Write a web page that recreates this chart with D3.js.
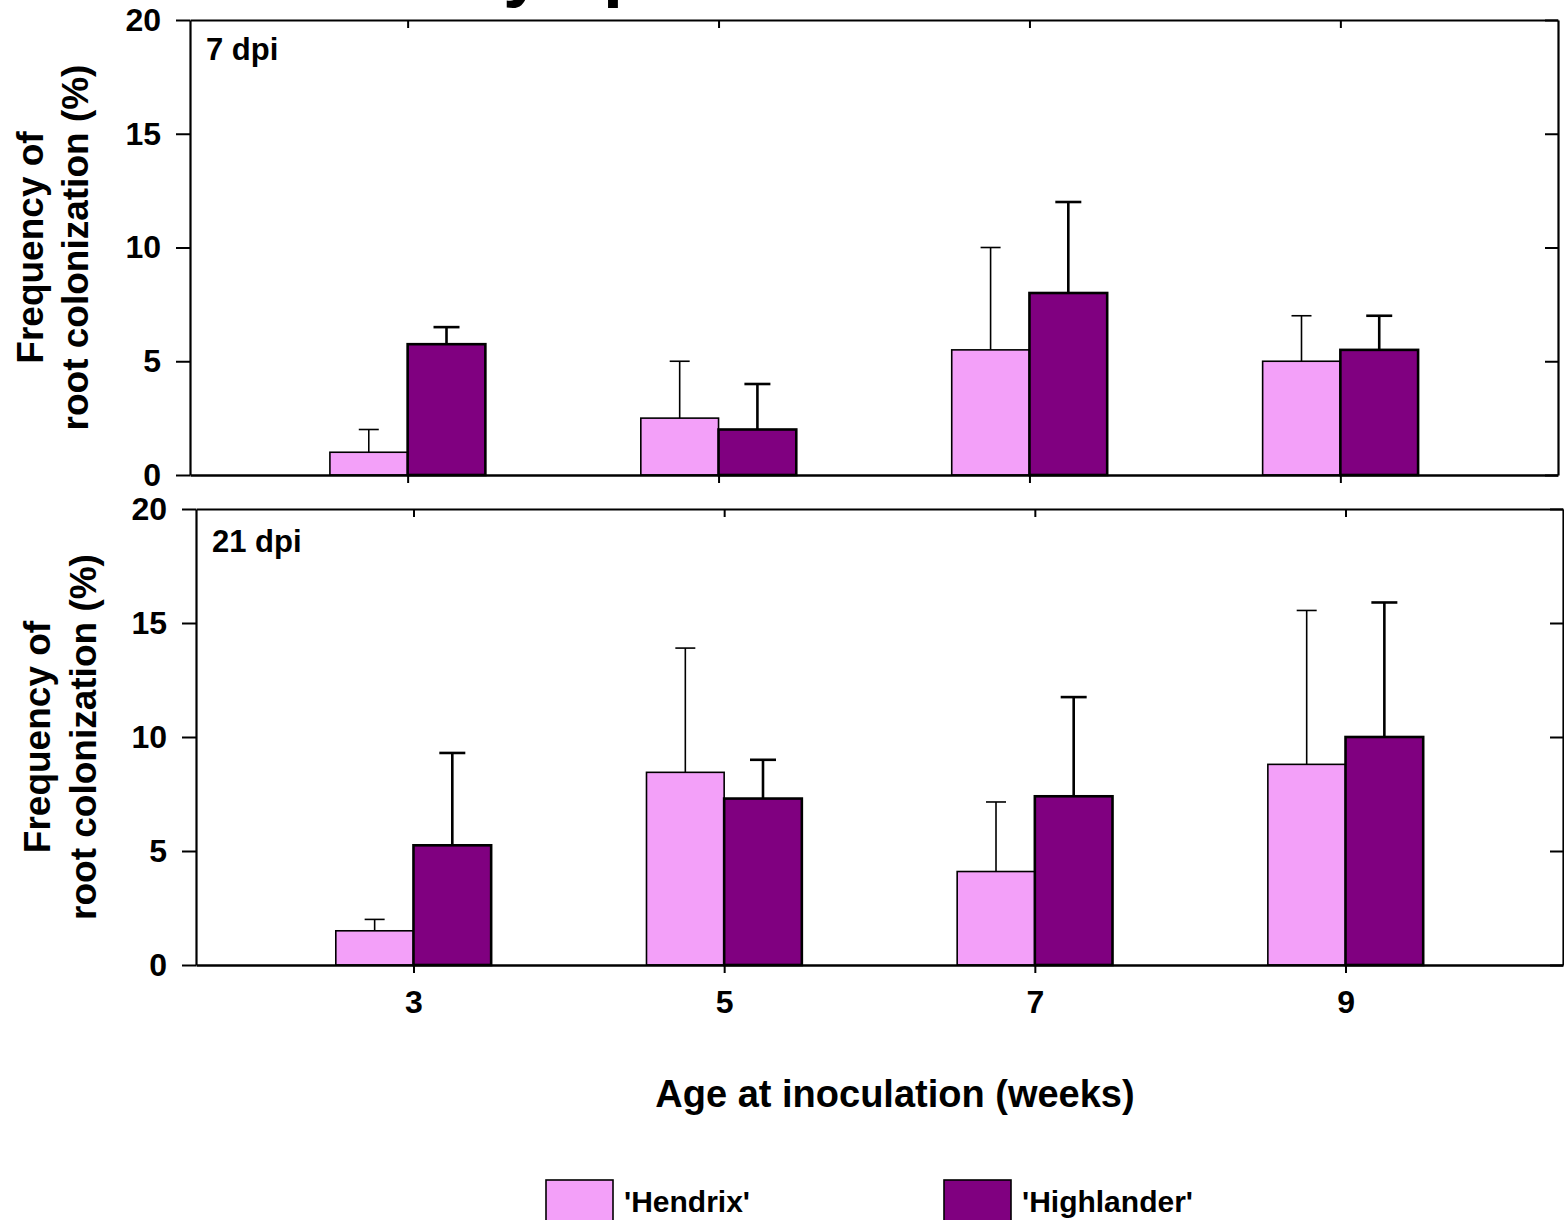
<!DOCTYPE html>
<html>
<head>
<meta charset="utf-8">
<script src="https://cdn.jsdelivr.net/npm/d3@7"></script>
<style>
  html, body { margin: 0; padding: 0; background: #fff; }
  svg { display: block; }
  text { font-family: "Liberation Sans", Arial, Helvetica, sans-serif; font-weight: bold; fill: #000; }
</style>
</head>
<body>
<svg id="chart" width="1564" height="1220"></svg>
<script>
// Age at inoculation (weeks)
const weeks = [3, 5, 7, 9];
const yTicks = [0, 5, 10, 15, 20];

// 7 days post inoculation: mean and standard error (%)
const hendrix7 = [1.0, 2.5, 5.5, 5.0];
const hendrix7Err = [1.0, 2.5, 4.5, 2.0];
const highlander7 = [5.75, 2.0, 8.0, 5.5];
const highlander7Err = [0.75, 2.0, 4.0, 1.5];

// 21 days post inoculation: mean and standard error (%)
const hendrix21 = [1.5, 8.45, 4.1, 8.8];
const hendrix21Err = [0.5, 5.45, 3.05, 6.75];
const highlander21 = [5.25, 7.3, 7.4, 10.0];
const highlander21Err = [4.05, 1.7, 4.35, 5.9];

const cultivars = ["'Hendrix'", "'Highlander'"];
const panelLabels = ["7 dpi", "21 dpi"];
const yTitleLines = ["Frequency of", "root colonization (%)"];
const xTitle = "Age at inoculation (weeks)";
const headline = "y ep";

const colors = ["#F3A0F9", "#800080"];
const barStroke = [1.6, 2.6];
const capHalf = [10, 13];

const svg = d3.select("#chart");

// Heading text running off the top edge
svg.append("text")
  .attr("x", 503).attr("y", -7)
  .style("font-size", "72px")
  .text(headline);

function drawPanel(opt) {
  const x = d3.scaleLinear().domain([1.6, 10.4]).range([opt.left, opt.left + opt.width]);
  const y = d3.scaleLinear().domain([0, 20]).range([opt.bottom, opt.top]);
  const g = svg.append("g");

  const series = [
    { vals: opt.hendrix, errs: opt.hendrixErr, offset: -0.5, idx: 0 },
    { vals: opt.highlander, errs: opt.highlanderErr, offset: 0, idx: 1 }
  ];

  series.forEach(s => {
    const rows = weeks.map((w, i) => ({ w, v: s.vals[i], e: s.errs[i] }));
    // error bars (upper half only)
    const eg = g.append("g").attr("stroke", "#000").attr("stroke-width", barStroke[s.idx]);
    rows.forEach(d => {
      const cx = x(d.w + s.offset + 0.25);
      eg.append("line").attr("x1", cx).attr("x2", cx).attr("y1", y(d.v)).attr("y2", y(d.v + d.e));
      eg.append("line").attr("x1", cx - capHalf[s.idx]).attr("x2", cx + capHalf[s.idx])
        .attr("y1", y(d.v + d.e)).attr("y2", y(d.v + d.e));
    });
    g.append("g").selectAll("rect").data(rows).join("rect")
      .attr("x", d => x(d.w + s.offset))
      .attr("width", d => x(d.w + s.offset + 0.5) - x(d.w + s.offset))
      .attr("y", d => y(d.v))
      .attr("height", d => y(0) - y(d.v))
      .attr("fill", colors[s.idx])
      .attr("stroke", "#000")
      .attr("stroke-width", barStroke[s.idx]);
  });

  // frame: top and right borders with inward ticks
  const top = g.append("g").attr("transform", `translate(0,${opt.top})`)
    .call(d3.axisBottom(x).tickValues(weeks).tickSize(8).tickFormat("").tickSizeOuter(0));
  const right = g.append("g").attr("transform", `translate(${opt.left + opt.width},0)`)
    .call(d3.axisLeft(y).tickValues(yTicks).tickSize(13).tickFormat("").tickSizeOuter(0));
  // left axis with outward ticks and labels
  const left = g.append("g").attr("transform", `translate(${opt.left},0)`)
    .call(d3.axisLeft(y).tickValues(yTicks).tickSize(14).tickPadding(15).tickSizeOuter(0));
  // bottom axis with outward ticks
  const bottom = g.append("g").attr("transform", `translate(0,${opt.bottom})`)
    .call(d3.axisBottom(x).tickValues(weeks).tickSize(8).tickPadding(17).tickSizeOuter(0)
      .tickFormat(opt.showX ? d3.format("d") : ""));

  [top, right, left, bottom].forEach(a => {
    a.attr("font-family", null).attr("font-size", null);
    a.selectAll("text").style("font-size", "32px");
    a.selectAll("line").attr("stroke", "#000").attr("stroke-width", 2);
    a.select(".domain").attr("stroke", "#000").attr("stroke-width", 2.2);
  });
  bottom.select(".domain").attr("stroke-width", 2.6);

  // panel label
  g.append("text")
    .attr("x", opt.left + 16).attr("y", opt.top + opt.labelDy)
    .style("font-size", "31px")
    .text(opt.label);

  // y axis title, two lines
  const cy = (opt.top + opt.bottom) / 2;
  yTitleLines.forEach((t, i) => {
    g.append("text")
      .attr("transform", `translate(${opt.titleX[i]},${cy}) rotate(-90)`)
      .attr("text-anchor", "middle")
      .style("font-size", "37px")
      .text(t);
  });
}

drawPanel({
  left: 190, width: 1368, top: 20, bottom: 475,
  hendrix: hendrix7, hendrixErr: hendrix7Err,
  highlander: highlander7, highlanderErr: highlander7Err,
  label: panelLabels[0], labelDy: 40, titleX: [43, 88], showX: false
});

drawPanel({
  left: 196, width: 1367, top: 509, bottom: 965,
  hendrix: hendrix21, hendrixErr: hendrix21Err,
  highlander: highlander21, highlanderErr: highlander21Err,
  label: panelLabels[1], labelDy: 43, titleX: [50, 96], showX: true
});

// x axis title
svg.append("text")
  .attr("x", 895).attr("y", 1107)
  .attr("text-anchor", "middle")
  .style("font-size", "38px")
  .text(xTitle);

// legend
const legendX = [546, 944];
const legend = svg.append("g");
cultivars.forEach((c, i) => {
  legend.append("rect")
    .attr("x", legendX[i]).attr("y", 1180)
    .attr("width", 67).attr("height", 44)
    .attr("fill", colors[i]).attr("stroke", "#000").attr("stroke-width", 1.6);
  legend.append("text")
    .attr("x", legendX[i] + 78).attr("y", 1212)
    .style("font-size", "30px")
    .text(c);
});
</script>
</body>
</html>
